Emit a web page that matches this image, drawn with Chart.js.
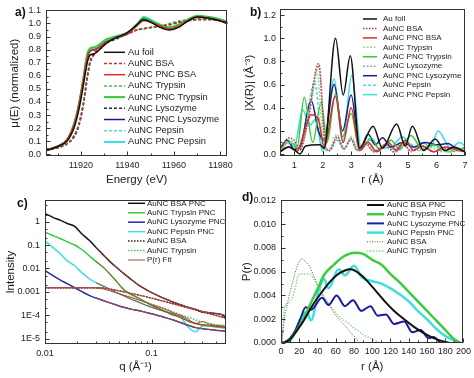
<!DOCTYPE html>
<html>
<head>
<meta charset="utf-8">
<script src="https://cdn.jsdelivr.net/npm/chart.js@4.4.1/dist/chart.umd.min.js"></script>
<style>
  html, body { margin: 0; padding: 0; background: #fff; }
  #wrap { position: relative; width: 474px; height: 378px; overflow: hidden; }
  canvas { position: absolute; }
</style>
</head>
<body>
<div id="wrap">
  <canvas id="chartA" width="237" height="190" style="left:0;top:0"></canvas>
  <canvas id="chartB" width="237" height="190" style="left:237px;top:0"></canvas>
  <canvas id="chartC" width="237" height="188" style="left:0;top:190px"></canvas>
  <canvas id="chartD" width="237" height="188" style="left:237px;top:190px"></canvas>
</div>
<script>
const FONT = "'Liberation Sans', Arial, sans-serif";

// ---- a) XANES, shared energy grid ----
const energyA = [11905,11910,11914,11917,11919,11921,11922,11923,11924,11926,11928,11931,11935,11940,11944,11947,11950,11954,11958,11962,11966,11970,11975,11980,11983];
const aAuFoil     = [0.03,0.06,0.10,0.20,0.33,0.52,0.63,0.72,0.76,0.77,0.80,0.85,0.89,0.93,0.99,1.03,1.01,0.97,0.95,0.97,1.02,1.05,1.04,1.02,1.00];
const aBsa        = [0.03,0.05,0.08,0.14,0.22,0.38,0.50,0.62,0.71,0.78,0.81,0.85,0.89,0.92,0.95,0.96,0.97,0.98,0.99,1.01,1.02,1.03,1.03,1.02,1.01];
const aPncBsa     = [0.03,0.06,0.11,0.22,0.36,0.56,0.67,0.76,0.79,0.80,0.82,0.86,0.89,0.92,0.98,1.02,1.01,0.98,0.96,0.98,1.02,1.05,1.04,1.02,1.00];
const aTrypsin    = [0.03,0.05,0.08,0.14,0.23,0.39,0.51,0.63,0.72,0.79,0.82,0.86,0.89,0.92,0.95,0.96,0.97,0.98,1.00,1.02,1.03,1.04,1.04,1.03,1.01];
const aPncTrypsin = [0.03,0.06,0.11,0.23,0.37,0.57,0.69,0.78,0.81,0.82,0.84,0.88,0.90,0.93,0.99,1.04,1.02,0.99,0.97,0.99,1.03,1.06,1.05,1.03,1.01];
const aLyso       = [0.03,0.05,0.08,0.13,0.21,0.37,0.49,0.61,0.70,0.77,0.80,0.85,0.88,0.92,0.95,0.96,0.97,0.98,0.99,1.01,1.02,1.03,1.03,1.02,1.00];
const aPncLyso    = [0.03,0.06,0.11,0.22,0.36,0.56,0.67,0.75,0.79,0.80,0.82,0.86,0.89,0.92,0.99,1.04,1.02,0.98,0.96,0.98,1.02,1.05,1.04,1.02,1.00];
const aPepsin     = [0.03,0.05,0.08,0.14,0.22,0.38,0.50,0.62,0.71,0.78,0.81,0.86,0.89,0.92,0.95,0.96,0.97,0.98,0.99,1.01,1.02,1.03,1.03,1.02,1.00];
const aPncPepsin  = [0.03,0.06,0.11,0.23,0.37,0.57,0.69,0.78,0.80,0.81,0.83,0.87,0.90,0.93,0.99,1.05,1.03,0.99,0.97,0.99,1.03,1.05,1.05,1.03,1.01];
const aXTicks = [11920,11940,11960,11980];
const aXMinor = [11910,11930,11950,11970];
const aYTicks = [0,0.1,0.2,0.3,0.4,0.5,0.6,0.7,0.8,0.9,1.0,1.1];
const aYMinor = [0.05,0.15,0.25,0.35,0.45,0.55,0.65,0.75,0.85,0.95,1.05];

// ---- b) FT-EXAFS, [r, |X(R)|] ----
const bAuFoil     = [[0.5,0.02],[0.8,0.06],[1.0,0.04],[1.2,0.0],[1.4,0.07],[1.9,0.08],[2.05,0.05],[2.45,1.0],[2.72,0.51],[2.97,0.85],[3.3,0.05],[3.77,0.24],[4.1,0.05],[4.6,0.26],[4.9,0.07],[5.15,0.24],[5.55,0.03],[5.95,0.13],[6.3,0.03],[6.6,0.06],[7.0,0.02]];
const bBsa        = [[0.5,0.03],[0.8,0.14],[1.0,0.12],[1.2,0.04],[1.45,0.25],[1.85,0.78],[2.1,0.06],[2.25,0.03],[2.5,0.15],[2.75,0.05],[3.0,0.13],[3.2,0.04],[3.5,0.1],[3.8,0.02],[4.2,0.08],[4.5,0.02],[4.8,0.1],[5.1,0.03],[5.5,0.07],[5.9,0.02],[6.3,0.05],[7.0,0.02]];
const bPncBsa     = [[0.5,0.02],[0.8,0.06],[1.1,0.02],[1.3,0.15],[1.6,0.34],[1.85,0.3],[2.05,0.06],[2.45,0.5],[2.72,0.1],[3.0,0.4],[3.3,0.03],[3.6,0.1],[3.9,0.02],[4.3,0.1],[4.6,0.03],[4.9,0.12],[5.2,0.03],[5.5,0.07],[5.9,0.02],[6.3,0.06],[7.0,0.02]];
const bTrypsin    = [[0.5,0.02],[0.8,0.1],[1.05,0.08],[1.2,0.03],[1.5,0.35],[1.8,0.7],[2.05,0.05],[2.2,0.04],[2.5,0.17],[2.75,0.05],[3.0,0.15],[3.25,0.03],[3.5,0.12],[3.8,0.03],[4.2,0.08],[4.5,0.02],[4.9,0.08],[5.3,0.03],[5.7,0.06],[6.2,0.02],[7.0,0.04]];
const bPncTrypsin = [[0.5,0.04],[0.8,0.1],[1.0,0.08],[1.1,0.05],[1.35,0.49],[1.65,0.1],[1.95,0.45],[2.15,0.1],[2.45,0.52],[2.7,0.15],[3.0,0.35],[3.3,0.03],[3.7,0.14],[4.0,0.04],[4.4,0.12],[4.7,0.04],[5.1,0.16],[5.5,0.04],[5.9,0.08],[6.4,0.02],[7.0,0.05]];
const bLyso       = [[0.5,0.02],[0.8,0.12],[1.0,0.1],[1.2,0.03],[1.5,0.3],[1.88,0.77],[2.1,0.05],[2.25,0.03],[2.5,0.13],[2.75,0.04],[3.0,0.12],[3.2,0.03],[3.5,0.09],[3.8,0.02],[4.2,0.07],[4.5,0.02],[4.8,0.09],[5.1,0.02],[5.5,0.06],[5.9,0.02],[6.3,0.04],[7.0,0.02]];
const bPncLyso    = [[0.5,0.05],[0.75,0.12],[1.0,0.04],[1.2,0.06],[1.6,0.46],[1.85,0.2],[2.05,0.12],[2.4,0.6],[2.7,0.2],[3.0,0.51],[3.3,0.05],[3.6,0.17],[3.85,0.08],[4.1,0.14],[4.4,0.06],[4.8,0.1],[5.2,0.06],[5.6,0.1],[6.0,0.08],[6.4,0.09],[6.8,0.03],[7.0,0.06]];
const bPepsin     = [[0.5,0.03],[0.8,0.1],[1.0,0.06],[1.2,0.04],[1.45,0.35],[1.72,0.62],[2.0,0.05],[2.2,0.03],[2.5,0.12],[2.75,0.04],[3.0,0.14],[3.25,0.03],[3.6,0.1],[3.9,0.02],[4.3,0.07],[4.6,0.02],[5.0,0.1],[5.4,0.03],[5.8,0.08],[6.2,0.03],[7.0,0.05]];
const bPncPepsin  = [[0.5,0.05],[0.8,0.12],[1.0,0.06],[1.3,0.38],[1.55,0.25],[1.75,0.3],[2.0,0.02],[2.4,0.65],[2.7,0.1],[3.02,0.68],[3.35,0.05],[3.65,0.12],[4.0,0.05],[4.4,0.06],[4.8,0.15],[5.2,0.06],[5.5,0.1],[5.8,0.06],[6.05,0.2],[6.5,0.05],[6.8,0.1],[7.0,0.07]];
const bXTicks = [1,2,3,4,5,6,7];
const bXMinor = [0.5,1.5,2.5,3.5,4.5,5.5,6.5];
const bYTicks = [0,0.2,0.4,0.6,0.8,1.0,1.2];
const bYMinor = [0.1,0.3,0.5,0.7,0.9,1.1];

// ---- c) SAXS, shared q grid ----
const qGrid = [0.01,0.012,0.014,0.016,0.019,0.022,0.026,0.03,0.035,0.04,0.047,0.055,0.065,0.075,0.088,0.1,0.12,0.14,0.16,0.19,0.22,0.26,0.3,0.35,0.4,0.45,0.5];
const cBsaPnc     = [2.19,1.48,1.12,0.85,0.62,0.31,0.16,0.081,0.039,0.021,0.011,0.006,0.0033,0.002,0.00128,0.00093,0.00063,0.00047,0.00036,0.000275,0.00022,0.00018,0.00014,0.00013,0.00012,0.00011,0.00008];
const cTrypsinPnc = [0.35,0.25,0.186,0.14,0.1,0.066,0.035,0.02,0.0115,0.0063,0.0028,0.0012,0.00075,0.00056,0.00037,0.00027,0.00018,0.00013,0.0001,0.000089,0.000056,0.000044,0.000038,0.000035,0.000032,0.00003,0.000028];
const cLysoPnc    = [0.0081,0.0048,0.0032,0.0023,0.0015,0.00105,0.00071,0.00055,0.00043,0.00035,0.000275,0.00022,0.00018,0.00016,0.000135,0.000117,0.000093,0.000076,0.000063,0.000048,0.000038,0.00003,0.000027,0.000025,0.000023,0.000022,0.000021];
const cPepsinPnc  = [0.148,0.075,0.042,0.022,0.013,0.0068,0.0037,0.0025,0.0018,0.00135,0.00093,0.00068,0.00048,0.00037,0.000275,0.00022,0.00017,0.000138,0.000117,0.000079,0.000032,0.00002,0.000035,0.000038,0.000035,0.000033,0.000032];
const cBsa        = [0.0015,0.0015,0.0015,0.0015,0.0015,0.0015,0.0015,0.0015,0.00148,0.00135,0.00117,0.00102,0.00085,0.00074,0.00063,0.00054,0.00044,0.00036,0.00031,0.00025,0.00021,0.000166,0.000138,0.000117,0.0001,0.000085,0.000074];
const cTrypsin    = [0.00152,0.00152,0.00151,0.00151,0.0015,0.0015,0.0015,0.00149,0.0014,0.0012,0.00093,0.00074,0.00059,0.00047,0.00037,0.0003,0.00023,0.00018,0.00014,0.000105,0.000083,0.000063,0.000052,0.000046,0.00004,0.000038,0.000035];
// P(r) fits
const qFit = [0.03,0.035,0.04,0.047,0.055,0.065,0.075,0.088,0.1,0.12,0.14,0.16,0.19,0.22,0.26,0.3,0.35,0.4,0.45,0.5];
const fitBsaPnc     = [0.081,0.039,0.021,0.011,0.006,0.0033,0.002,0.00128,0.00093,0.00064,0.00048,0.00037,0.00028,0.00022,0.00018,0.00015,0.00013,0.00012,0.00011,0.0001];
const fitTrypsinPnc = [0.02,0.0115,0.0063,0.0028,0.0013,0.00078,0.00055,0.00037,0.00027,0.00019,0.00014,0.000105,0.000075,0.000058,0.000046,0.00004,0.000037,0.000034,0.000032,0.00003];
const fitLysoPnc    = [0.00055,0.00043,0.00035,0.000275,0.00022,0.00018,0.00016,0.000135,0.000117,0.000093,0.000076,0.000063,0.000048,0.000038,0.00003,0.000027,0.000025,0.000023,0.000022,0.000021];
const fitPepsinPnc  = [0.0025,0.0018,0.00135,0.00093,0.00068,0.00048,0.00037,0.000275,0.00022,0.00017,0.000138,0.000117,0.000085,0.00006,0.000045,0.00004,0.000037,0.000035,0.000033,0.000032];
const fitBsa        = [0.0015,0.0015,0.0015,0.0015,0.0015,0.0015,0.0015,0.0015,0.00146,0.00133,0.00116,0.001,0.00085,0.00074,0.00063,0.00054,0.00044,0.00037,0.00031,0.00025,0.00021,0.00017,0.00014,0.00012,0.0001,0.000087,0.000076];
const fitTrypsin    = [0.0015,0.0015,0.0015,0.0015,0.0015,0.0015,0.0015,0.00147,0.00135,0.00115,0.0009,0.00072,0.00057,0.00046,0.00036,0.00029,0.00022,0.00017,0.00013,0.0001,0.00007,0.000045,0.000055,0.000042,0.000038,0.000036,0.000034];
const cXTicks = [0.01,0.1];
const cXMinor = [0.02,0.03,0.04,0.05,0.06,0.07,0.08,0.09,0.2,0.3,0.4];
const cYTicks = [1e-5,1e-4,1e-3,1e-2,0.1,1];
const cYLabels = ['1E-5','1E-4','0.001','0.01','0.1','1'];
const cYMinor = [2e-5,5e-5,2e-4,5e-4,2e-3,5e-3,2e-2,5e-2,0.2,0.5,2,5];

// ---- d) pair distance distribution, [r, P(r)] ----
const dBsaPnc     = [[0,0],[5,0.0001],[10,0.0003],[16,0.0009],[25,0.0019],[34,0.0031],[43,0.0041],[52,0.005],[61,0.0057],[70,0.0061],[76,0.0062],[88,0.0057],[97,0.005],[106,0.0042],[115,0.0034],[124,0.0027],[135,0.002],[145,0.0014],[155,0.0009],[165,0.0005],[175,0.0002],[185,0]];
const dTrypsinPnc = [[0,0],[5,0.0001],[10,0.0003],[16,0.0009],[24,0.0019],[30,0.0029],[36,0.0039],[41,0.0047],[47,0.0057],[58,0.0066],[69,0.0073],[81,0.0076],[90,0.0075],[100,0.007],[110,0.0066],[120,0.0058],[130,0.0051],[140,0.0043],[150,0.0035],[160,0.0027],[170,0.0019],[180,0.0011],[190,0.0003],[197,0]];
const dLysoPnc    = [[0,0],[5,0.0001],[10,0.0004],[16,0.0011],[22,0.0022],[27,0.003],[33,0.0028],[45,0.0038],[52,0.0032],[61,0.004],[70,0.0031],[79,0.0036],[88,0.0027],[98,0.0031],[106,0.0023],[115,0.0024],[124,0.0016],[135,0.0018],[144,0.0009],[153,0.0011],[162,0.0004],[167,0.0005],[175,0]];
const dPepsinPnc  = [[0,0],[5,0.00005],[10,0.0002],[15,0.0009],[24,0.0023],[28,0.0026],[33,0.0019],[41,0.0043],[47,0.0054],[52,0.0046],[63,0.0062],[70,0.0057],[80,0.0065],[89,0.0055],[100,0.0052],[110,0.005],[120,0.0046],[130,0.0041],[140,0.0035],[150,0.0027],[160,0.002],[170,0.0012],[180,0.0006],[190,0.0002],[196,0]];
const dBsa        = [[0,0],[1,0.0002],[4,0.0022],[7.5,0.0035],[11,0.0046],[15.5,0.0059],[19,0.0067],[23,0.0071],[26,0.0069],[31,0.0065],[35,0.0058],[40,0.0049],[45,0.0042],[50.5,0.0035],[56,0.0028],[61,0.0022],[66,0.0018],[70,0.0015],[75,0.001],[81,0.0005],[86,0]];
const dTrypsin    = [[0,0],[1,0.0002],[4,0.003],[9,0.0034],[14.5,0.0043],[20,0.0058],[25,0.0058],[31,0.0058],[36,0.0054],[41,0.0047],[47,0.0038],[53,0.0032],[58,0.0027],[64,0.0022],[69,0.0019],[75,0.0016],[79,0.0013],[85,0.001],[90,0.0007],[95,0.0005],[101,0.0003],[108,0]];
const dXTicks = [0,20,40,60,80,100,120,140,160,180,200];
const dXMinor = [10,30,50,70,90,110,130,150,170,190];
const dYTicks = [0,0.002,0.004,0.006,0.008,0.010,0.012];
const dYMinor = [0.001,0.003,0.005,0.007,0.009,0.011];

// helpers
const onGrid = (xs, ys) => xs.map((x, i) => ({ x: x, y: ys[i] }));
const pairs = arr => arr.map(p => ({ x: p[0], y: p[1] }));

function line(label, data, color, width, dash, order) {
    return {
        label: label, data: data,
        borderColor: color, backgroundColor: color,
        borderWidth: width, borderDash: dash || [],
        pointRadius: 0, fill: false,
        cubicInterpolationMode: 'monotone',
        order: order || 0
    };
}

function axis(o) {
    return {
        type: o.type || 'linear',
        min: o.min, max: o.max,
        bounds: 'data',
        grid: { display: false, drawTicks: false },
        border: { display: false },
        ticks: {
            font: { family: FONT, size: 9 }, color: '#222',
            padding: o.pad, autoSkip: false, maxRotation: 0,
            callback: o.fmt
        },
        title: {
            display: true, text: o.title, color: '#222',
            font: { family: FONT, size: 11.5 },
            padding: o.tpad
        },
        afterBuildTicks: s => { s.ticks = o.ticks.map(v => ({ value: v })); },
        afterFit: s => {
            if (o.w) s.width = o.w;
            if (o.h) s.height = o.h;
        }
    };
}

// frame, inward ticks, legend inside the plot, panel tag
const panelPlugin = {
    id: 'panel',
    afterDatasetsDraw(chart, args, opts) {
        const ctx = chart.ctx, a = chart.chartArea;
        const sx = chart.scales.x, sy = chart.scales.y;
        const L = Math.round(a.left) + 0.5, R = Math.round(a.right) - 0.5;
        const T = Math.round(a.top) + 0.5, B = Math.round(a.bottom) - 0.5;
        ctx.save();
        ctx.setLineDash([]);
        ctx.strokeStyle = '#333';
        ctx.lineWidth = 1;
        ctx.strokeRect(L, T, R - L, B - T);
        ctx.beginPath();
        const tick = (scale, vals, len, horiz) => vals.forEach(v => {
            const p = Math.round(scale.getPixelForValue(v)) + 0.5;
            if (horiz) { ctx.moveTo(p, B); ctx.lineTo(p, B - len); }
            else { ctx.moveTo(L, p); ctx.lineTo(L + len, p); }
        });
        tick(sx, sx.ticks.map(t => t.value), 4, true);
        tick(sx, opts.xMinor || [], 2, true);
        tick(sy, sy.ticks.map(t => t.value), 4, false);
        tick(sy, opts.yMinor || [], 2, false);
        ctx.stroke();

        const lg = opts.legend;
        ctx.font = lg.size + 'px ' + FONT;
        ctx.textBaseline = 'middle';
        ctx.textAlign = 'left';
        const seen = new Set();
        let row = 0;
        chart.data.datasets.forEach(ds => {
            if (seen.has(ds.label)) return;
            seen.add(ds.label);
            const y = lg.y + row * lg.dy;
            row++;
            ctx.beginPath();
            ctx.strokeStyle = ds.borderColor;
            ctx.lineWidth = ds.borderWidth;
            ctx.setLineDash(ds.borderDash);
            ctx.moveTo(lg.x0, y);
            ctx.lineTo(lg.x1, y);
            ctx.stroke();
            ctx.fillStyle = '#222';
            ctx.fillText(ds.label, lg.tx, y);
        });

        ctx.setLineDash([]);
        ctx.font = 'bold 12px ' + FONT;
        ctx.fillStyle = '#111';
        ctx.fillText(opts.tag, opts.tagX, opts.tagY);
        ctx.restore();
    }
};

function makeChart(id, datasets, xAx, yAx, pad, panel) {
    return new Chart(document.getElementById(id), {
        type: 'line',
        data: { datasets: datasets },
        options: {
            responsive: false,
            animation: false,
            devicePixelRatio: 1,
            layout: { padding: pad },
            plugins: { legend: { display: false }, tooltip: { enabled: false }, panel: panel },
            scales: { x: xAx, y: yAx }
        },
        plugins: [panelPlugin]
    });
}

// a)
makeChart('chartA', [
    line('Au foil', onGrid(energyA, aAuFoil), '#111111', 1.5),
    line('AuNC BSA', onGrid(energyA, aBsa), '#c83030', 1.5, [3, 2]),
    line('AuNC PNC BSA', onGrid(energyA, aPncBsa), '#e02a2a', 1.5),
    line('AuNC Trypsin', onGrid(energyA, aTrypsin), '#45c045', 1.5, [3, 2]),
    line('AuNC PNC Trypsin', onGrid(energyA, aPncTrypsin), '#33cc33', 2),
    line('AuNC Lysozyme', onGrid(energyA, aLyso), '#22226e', 1.5, [3, 2]),
    line('AuNC PNC Lysozyme', onGrid(energyA, aPncLyso), '#1a1a96', 1.5),
    line('AuNC Pepsin', onGrid(energyA, aPepsin), '#50dada', 1.5, [3, 2]),
    line('AuNC PNC Pepsin', onGrid(energyA, aPncPepsin), '#33dede', 2)
],
    axis({ min: 11905, max: 11983, ticks: aXTicks, pad: 4, title: 'Energy (eV)', tpad: { top: 0, bottom: 3 }, h: 34 }),
    axis({ min: -0.013, max: 1.1, ticks: aYTicks, pad: 5, fmt: v => v.toFixed(1), title: '\u03bc(E) (normalized)', tpad: { top: 8, bottom: 0 }, w: 46 }),
    { left: 0, top: 6, right: 9, bottom: 0 },
    { xMinor: aXMinor, yMinor: aYMinor, tag: 'a)', tagX: 15, tagY: 13,
      legend: { x0: 104, x1: 125, tx: 128, y: 52.3, dy: 11.2, size: 9.3 } }
);

// b)
makeChart('chartB', [
    line('Au foil', pairs(bAuFoil), '#111111', 1.5),
    line('AuNC BSA', pairs(bBsa), '#c03a3a', 1.5, [1.5, 1.5]),
    line('AuNC PNC BSA', pairs(bPncBsa), '#e02a2a', 1.5),
    line('AuNC Trypsin', pairs(bTrypsin), '#9ad99a', 1.5, [2, 1.5]),
    line('AuNC PNC Trypsin', pairs(bPncTrypsin), '#33cc33', 1.5),
    line('AuNC Lysozyme', pairs(bLyso), '#9c9cd0', 1.5, [2, 1.5]),
    line('AuNC PNC Lysozyme', pairs(bPncLyso), '#1a1a96', 1.5),
    line('AuNC Pepsin', pairs(bPepsin), '#55dada', 1.5, [3, 2]),
    line('AuNC PNC Pepsin', pairs(bPncPepsin), '#33dede', 1.5)
],
    axis({ min: 0.5, max: 7, ticks: bXTicks, pad: 4, title: 'r (\u00c5)', tpad: { top: 0, bottom: 3 }, h: 34 }),
    axis({ min: -0.017, max: 1.25, ticks: bYTicks, pad: 4, fmt: v => v.toFixed(1), title: '|X(R)| (\u00c5\u207b\u00b3)', tpad: { top: 6, bottom: 0 }, w: 43 }),
    { left: 0, top: 8, right: 9, bottom: 0 },
    { xMinor: bXMinor, yMinor: bYMinor, tag: 'b)', tagX: 13, tagY: 13,
      legend: { x0: 126, x1: 140, tx: 146, y: 19, dy: 9.45, size: 8 } }
);

// c)
const fitColor = '#a84a40';
makeChart('chartC', [
    line('AuNC BSA PNC', onGrid(qGrid, cBsaPnc), '#111111', 1.5),
    line('AuNC Trypsin PNC', onGrid(qGrid, cTrypsinPnc), '#33cc33', 1.5),
    line('AuNC Lysozyme PNC', onGrid(qGrid, cLysoPnc), '#2a2aa8', 1.5),
    line('AuNC Pepsin PNC', onGrid(qGrid, cPepsinPnc), '#40dede', 1.5),
    line('AuNC BSA', onGrid(qGrid, cBsa), '#3a1a1a', 1.5, [1.5, 1.5]),
    line('AuNC Trypsin', onGrid(qGrid, cTrypsin), '#55c855', 1.5, [1.5, 1.5]),
    line('P(r) Fit', onGrid(qFit, fitBsaPnc), fitColor, 1, [], -1),
    line('P(r) Fit', onGrid(qFit, fitTrypsinPnc), fitColor, 1, [], -1),
    line('P(r) Fit', onGrid(qFit, fitLysoPnc), fitColor, 1, [], -1),
    line('P(r) Fit', onGrid(qFit, fitPepsinPnc), fitColor, 1, [], -1),
    line('P(r) Fit', onGrid(qGrid, fitBsa), fitColor, 1, [], -1),
    line('P(r) Fit', onGrid(qGrid, fitTrypsin), fitColor, 1, [], -1)
],
    axis({ type: 'logarithmic', min: 0.01, max: 0.5, ticks: cXTicks, pad: 4, fmt: v => String(v), title: 'q (\u00c5\u207b\u00b9)', tpad: { top: 0, bottom: 4 }, h: 34 }),
    axis({ type: 'logarithmic', min: 6e-6, max: 8, ticks: cYTicks, pad: 5, fmt: (v, i) => cYLabels[i], title: 'Intensity', tpad: { top: 4, bottom: 0 }, w: 45 }),
    { left: 0, top: 5, right: 11, bottom: 0 },
    { xMinor: cXMinor, yMinor: cYMinor, tag: 'c)', tagX: 17, tagY: 14,
      legend: { x0: 128, x1: 145, tx: 147, y: 13.3, dy: 9.45, size: 8 } }
);

// d)
makeChart('chartD', [
    line('AuNC BSA PNC', pairs(dBsaPnc), '#111111', 2),
    line('AuNC Trypsin PNC', pairs(dTrypsinPnc), '#3ccc3c', 2.5),
    line('AuNC Lysozyme PNC', pairs(dLysoPnc), '#1c1ca0', 2),
    line('AuNC Pepsin PNC', pairs(dPepsinPnc), '#40dede', 2.5),
    line('AuNC BSA', pairs(dBsa), '#555555', 1, [1, 1.5]),
    line('AuNC Trypsin', pairs(dTrypsin), '#8fd88f', 1.5, [1.5, 1.5])
],
    axis({ min: 0, max: 200, ticks: dXTicks, pad: 3, title: 'r (\u00c5)', tpad: { top: 0, bottom: 4 }, h: 35 }),
    axis({ min: 0, max: 0.012, ticks: dYTicks, pad: 5, fmt: v => v.toFixed(3), title: 'P(r)', tpad: { top: 3, bottom: 0 }, w: 44 }),
    { left: 0, top: 5, right: 7, bottom: 0 },
    { xMinor: dXMinor, yMinor: dYMinor, tag: 'd)', tagX: 5, tagY: 8,
      legend: { x0: 130, x1: 147, tx: 150, y: 15, dy: 9.2, size: 8 } }
);
</script>
</body>
</html>
